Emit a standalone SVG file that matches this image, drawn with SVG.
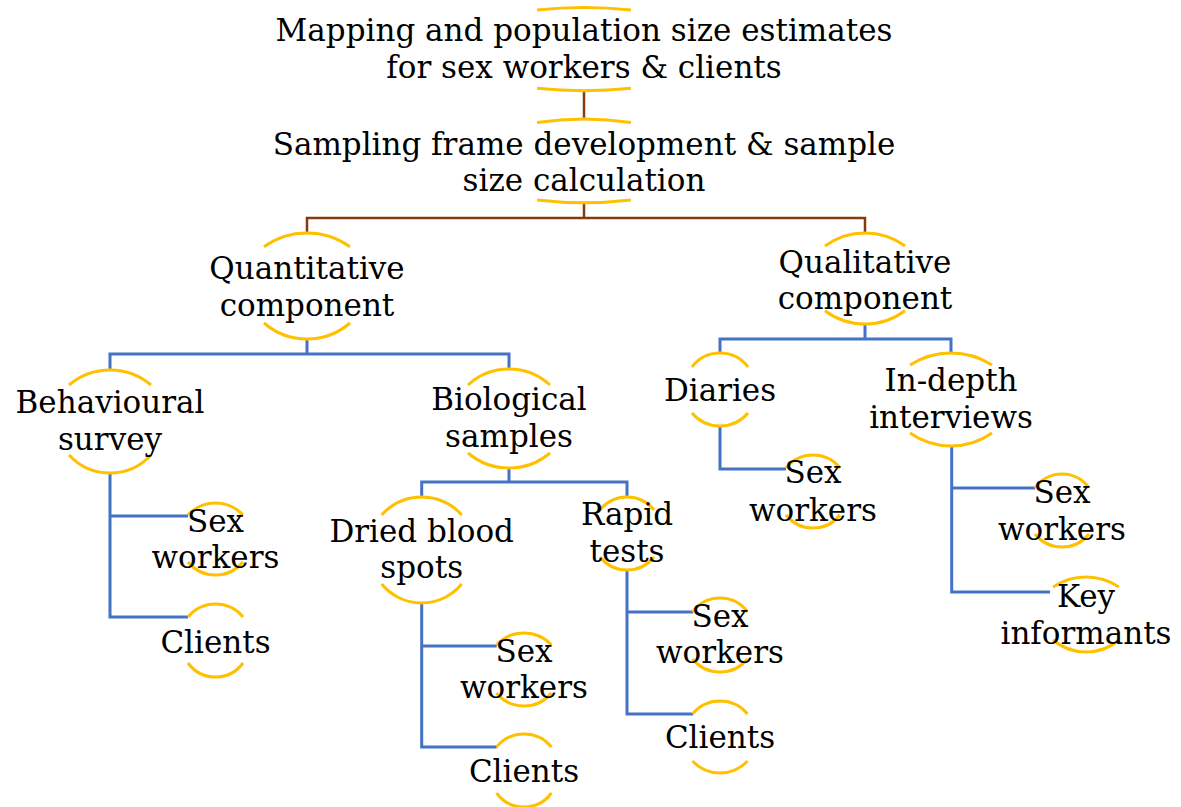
<svg xmlns="http://www.w3.org/2000/svg" width="1181" height="807" viewBox="0 0 1181 807">
<style>
.arc{fill:none;stroke:#FFC000;stroke-width:3}
.t{font-family:"DejaVu Serif","Liberation Serif",serif;font-size:31px;text-anchor:middle;fill:#000}
.brown{fill:none;stroke:#843C0C;stroke-width:2.5}
.blue{fill:none;stroke:#4472C4;stroke-width:3}
</style>
<rect width="1181" height="807" fill="#fff"/>
<g id="connectors">
<path class="brown" d="M584 91V119M584 203V218M307 233V218H865V233"/>
<path class="blue" d="M307 339V354M110 370V354H509V369"/>
<path class="blue" d="M865 324V339M720 353V339H951V353"/>
<path class="blue" d="M110 473V617H188M110 516H188"/>
<path class="blue" d="M509 468V482M421.7 497V482H627V497"/>
<path class="blue" d="M421.7 603V747H496.7M421.7 646H496.7"/>
<path class="blue" d="M627 570V714H693M627 612H693"/>
<path class="blue" d="M720 426V469H786"/>
<path class="blue" d="M951.7 446V592H1050M951.7 488H1035"/>
</g>
<g id="node-mapping">
<path class="arc" d="M537 10A443 443 0 0 1 631 10M537 88.3A461 461 0 0 0 631 88.3"/>
<text class="t" x="584" y="41">Mapping and population size estimates</text>
<text class="t" x="584" y="78">for sex workers &amp; clients</text>
</g>
<g id="node-sampling">
<path class="arc" d="M537 122.5A317 317 0 0 1 631 122.5M537 200A410 410 0 0 0 631 200"/>
<text class="t" x="584" y="155">Sampling frame development &amp; sample</text>
<text class="t" x="584" y="191">size calculation</text>
</g>
<g id="node-quantitative">
<path class="arc" d="M264 246.7A74.3 74.3 0 0 1 350 246.7M264 323A65.8 65.8 0 0 0 350 323"/>
<text class="t" x="307" y="279">Quantitative</text>
<text class="t" x="307" y="316">component</text>
</g>
<g id="node-qualitative">
<path class="arc" d="M825 246A68 68 0 0 1 905 246M825 310.7A66.8 66.8 0 0 0 905 310.7"/>
<text class="t" x="865" y="273">Qualitative</text>
<text class="t" x="865" y="309">component</text>
</g>
<g id="node-behavioural">
<path class="arc" d="M69 385A63.5 63.5 0 0 1 151 385M69 455A55.7 55.7 0 0 0 151 455"/>
<text class="t" x="110" y="413">Behavioural</text>
<text class="t" x="110" y="450">survey</text>
</g>
<g id="node-biological">
<path class="arc" d="M468 385A60.5 60.5 0 0 1 550 385M468 453A63.5 63.5 0 0 0 550 453"/>
<text class="t" x="509" y="410">Biological</text>
<text class="t" x="509" y="447">samples</text>
</g>
<g id="node-diaries">
<path class="arc" d="M692 367A35 35 0 0 1 748 367M692 413A36.7 36.7 0 0 0 748 413"/>
<text class="t" x="720" y="401">Diaries</text>
</g>
<g id="node-indepth">
<path class="arc" d="M910 365A76 76 0 0 1 992 365M910 433A71.2 71.2 0 0 0 992 433"/>
<text class="t" x="951" y="391">In-depth</text>
<text class="t" x="951" y="428">interviews</text>
</g>
<g id="node-bs-sexworkers">
<path class="arc" d="M188 515A37.5 37.5 0 0 1 243 515M188 562A35.6 35.6 0 0 0 243 562"/>
<text class="t" x="215.5" y="532">Sex</text>
<text class="t" x="215.5" y="568">workers</text>
</g>
<g id="node-bs-clients">
<path class="arc" d="M188 617A35.6 35.6 0 0 1 243 617M188 663A34 34 0 0 0 243 663"/>
<text class="t" x="215.5" y="653">Clients</text>
</g>
<g id="node-dbs">
<path class="arc" d="M381.7 515A53.4 53.4 0 0 1 461.7 515M381.7 584A51.6 51.6 0 0 0 461.7 584"/>
<text class="t" x="421.7" y="542">Dried blood</text>
<text class="t" x="421.7" y="578">spots</text>
</g>
<g id="node-rapid">
<path class="arc" d="M600 510A34.5 34.5 0 0 1 654 510M600 557A34.5 34.5 0 0 0 654 557"/>
<text class="t" x="627" y="525">Rapid</text>
<text class="t" x="627" y="562">tests</text>
</g>
<g id="node-dbs-sexworkers">
<path class="arc" d="M496.5 645A37.5 37.5 0 0 1 551.5 645M496.5 693A35.6 35.6 0 0 0 551.5 693"/>
<text class="t" x="524" y="662">Sex</text>
<text class="t" x="524" y="698">workers</text>
</g>
<g id="node-dbs-clients">
<path class="arc" d="M496.5 747A35.6 35.6 0 0 1 551.5 747M496.5 793A34 34 0 0 0 551.5 793"/>
<text class="t" x="524" y="782">Clients</text>
</g>
<g id="node-rt-sexworkers">
<path class="arc" d="M692.5 612A34 34 0 0 1 747.5 612M692.5 659A35.6 35.6 0 0 0 747.5 659"/>
<text class="t" x="720" y="627">Sex</text>
<text class="t" x="720" y="663">workers</text>
</g>
<g id="node-rt-clients">
<path class="arc" d="M692.5 714A35.6 35.6 0 0 1 747.5 714M692.5 761A37.5 37.5 0 0 0 747.5 761"/>
<text class="t" x="720" y="748">Clients</text>
</g>
<g id="node-diaries-sexworkers">
<path class="arc" d="M786 468A34.5 34.5 0 0 1 840 468M786 515A34.5 34.5 0 0 0 840 515"/>
<text class="t" x="813" y="483">Sex</text>
<text class="t" x="813" y="521">workers</text>
</g>
<g id="node-idi-sexworkers">
<path class="arc" d="M1035 488A33 33 0 0 1 1089 488M1035 534A34.5 34.5 0 0 0 1089 534"/>
<text class="t" x="1062" y="503">Sex</text>
<text class="t" x="1062" y="540">workers</text>
</g>
<g id="node-idi-keyinformants">
<path class="arc" d="M1053 587A59.5 59.5 0 0 1 1119 587M1053 640A51.4 51.4 0 0 0 1119 640"/>
<text class="t" x="1086" y="607">Key</text>
<text class="t" x="1086" y="644">informants</text>
</g>
</svg>
